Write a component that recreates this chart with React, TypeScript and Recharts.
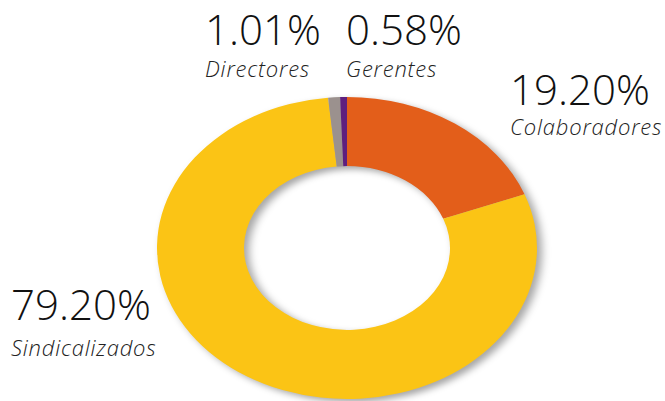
import { PieChart, Pie, Cell } from "recharts"

const categories = ["Colaboradores", "Sindicalizados", "Directores", "Gerentes"]
const shares = [19.2, 79.2, 1.01, 0.58]
const shareLabels = ["19.20%", "79.20%", "1.01%", "0.58%"]
const colors = ["#E35E1A", "#FBC415", "#9B918E", "#5E1F7E"]

// label anchor points (left edge, baselines of value and name)
const labelPos = [
  { x: 510, y: 105, y2: 135 },
  { x: 11, y: 320, y2: 356 },
  { x: 205, y: 45, y2: 77 },
  { x: 346, y: 45, y2: 77 },
]

const chartData = categories.map((name, i) => ({ name, value: shares[i] }))

export default function App() {
  return (
    <div style={{ position: "absolute", left: 0, top: 0, width: 665, height: 401, overflow: "hidden", background: "#fff" }}>
      {/* circular pie squashed into an ellipse */}
      <div
        style={{
          position: "absolute",
          left: 146.5,
          top: 47.5,
          width: 400,
          height: 400,
          transform: "scaleY(0.795)",
          transformOrigin: "center",
          filter: "drop-shadow(5px 4px 4px rgba(0,0,0,0.35))",
        }}
      >
        <PieChart width={400} height={400} margin={{ top: 0, right: 0, bottom: 0, left: 0 }}>
          <Pie
            data={chartData}
            dataKey="value"
            nameKey="name"
            cx={200}
            cy={200}
            outerRadius={190}
            innerRadius={103}
            startAngle={90}
            endAngle={-270}
            stroke="none"
            label={false}
            labelLine={false}
            isAnimationActive={false}
          >
            {chartData.map((d, i) => (
              <Cell key={d.name} fill={colors[i]} />
            ))}
          </Pie>
        </PieChart>
      </div>
      <svg width={665} height={401} style={{ position: "absolute", left: 0, top: 0 }}>
        {chartData.map((d, i) => (
          <g key={d.name} fontFamily="'Open Sans', sans-serif" fill="#111">
            <text x={labelPos[i].x} y={labelPos[i].y} fontSize={42} fontWeight={300}>
              {shareLabels[i]}
            </text>
            <text
              x={labelPos[i].x}
              y={labelPos[i].y2}
              fontSize={22}
              fontWeight={300}
              fontStyle="italic"
              letterSpacing={0.8}
              fill="#222"
            >
              {d.name}
            </text>
          </g>
        ))}
      </svg>
    </div>
  )
}
